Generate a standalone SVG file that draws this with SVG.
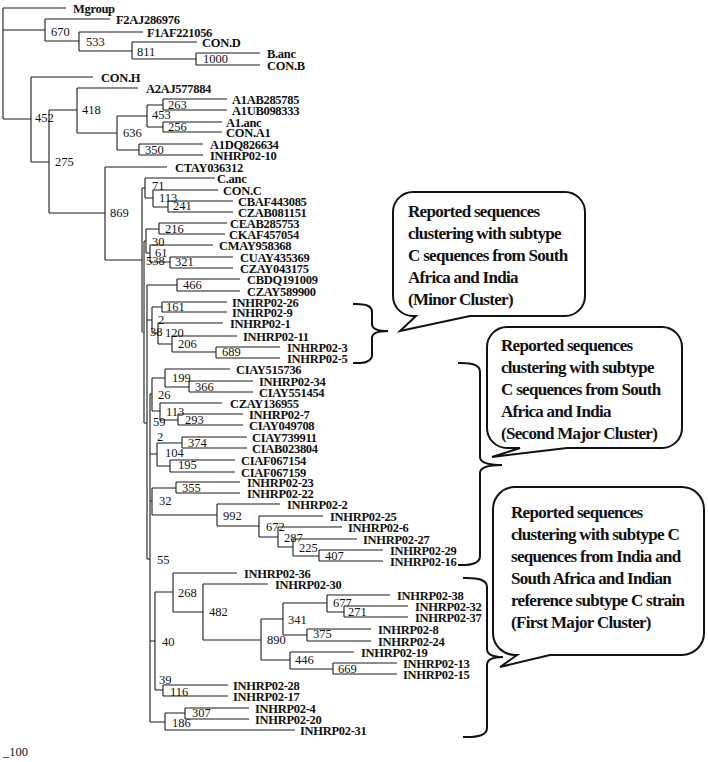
<svg xmlns="http://www.w3.org/2000/svg" width="708" height="762" viewBox="0 0 708 762">
<style>
.br{fill:none;stroke:#1a1a1a;stroke-width:1.1}
.lf{font-family:"Liberation Serif","Times New Roman",serif;font-weight:bold;font-size:12.5px;letter-spacing:-0.3px;fill:#111}
.bs{font-family:"Liberation Serif","Times New Roman",serif;font-size:12.5px;fill:#111}
.ct{font-family:"Liberation Serif","Times New Roman",serif;font-weight:bold;font-size:17px;letter-spacing:-0.7px;fill:#111}
.box{fill:#fff;stroke:#111;stroke-width:2}
.brk{fill:none;stroke:#111;stroke-width:2}
</style>
<rect width="708" height="762" fill="#fff"/>
<g id="connectors">
<path class="br" d="M3 8H66 M45 19H110 M79 32H143 M132 42H197 M196 53H260 M196 65H260 M31 77H93 M77 88H138 M163 99H227 M163 110H227 M163 122H222 M163 132H222 M139 144H203 M139 155H203 M105 167H167 M145 178H215 M153 190H218 M168 201H233 M168 212H233 M159 223H227 M159 234H225 M150 245H213 M170 257H233 M170 268H233 M177 279H240 M177 291H240 M162 302H227 M162 312H227 M158 323H223 M172 336H237 M216 347H280 M216 358H280 M165 369H230 M189 381H253 M189 392H253 M160 403H222 M178 414H243 M178 425H243 M182 437H247 M182 448H247 M170 460H235 M170 472H235 M176 482H240 M176 493H240 M217 504H280 M259 516H323 M278 527H342 M293 539H357 M319 550H383 M319 561H383 M173 573H237 M203 584H268 M327 595H390 M344 606H408 M344 617H408 M307 629H371 M307 641H371 M290 652H354 M333 663H397 M333 674H397 M163 685H228 M163 696H228 M185 708H249 M185 719H249 M165 730H295"/>
<path class="br" d="M3 8V119 M3 30H45 M45 19V41 M45 41H79 M79 32V51 M79 51H132 M132 42V59 M132 59H196 M196 53V65 M3 119H31 M31 77V162 M31 162H49 M49 110V213 M49 110H77 M77 88V133 M77 133H117 M117 116V150 M117 116H147 M147 105V127 M147 105H163 M163 99V110 M147 127H163 M163 122V132 M117 150H139 M139 144V155 M49 213H105 M105 167V260"/>
<path class="br" d="M105 260H142 M142 188V332 M142 188H145 M145 178V198 M145 198H153 M153 190V207 M153 207H168 M168 201V212 M142 332H144 M144 241V423 M144 241H146 M146 229V253 M146 229H159 M159 223V234 M146 253H150 M150 245V262 M150 262H170 M170 257V268 M144 423H147 M147 285V559 M147 285H177 M177 279V291 M147 320H152 M152 307V333 M152 307H162 M162 302V312 M152 333H158 M158 323V344 M158 344H172 M172 336V352 M172 352H216 M216 347V358"/>
<path class="br" d="M147 559H150 M150 394V722 M150 394H152 M152 378V411 M152 378H165 M165 369V387 M165 387H189 M189 381V392 M152 411H160 M160 403V420 M160 420H178 M178 414V425 M150 454H157 M157 443V466 M157 443H182 M182 437V448 M157 466H170 M170 460V472 M150 501H152 M152 488V515 M152 488H176 M176 482V493 M152 515H217 M217 504V526 M217 526H259 M259 516V537 M259 537H278 M278 527V547 M278 547H293 M293 539V556 M293 556H319 M319 550V561"/>
<path class="br" d="M150 641H155 M155 592V690 M155 592H173 M173 573V612 M173 612H203 M203 584V640 M203 640H261 M261 619V660 M261 619H283 M283 603V635 M283 603H327 M327 595V612 M327 612H344 M344 606V617 M283 635H307 M307 629V641 M261 660H290 M290 652V669 M290 669H333 M333 663V674 M155 690H163 M163 685V696 M150 722H165 M165 713V730 M165 713H185 M185 708V719"/>
<rect x="142.4" y="241" width="1.6" height="91" fill="#8a8a8a"/>
</g>
<g id="leaves">
<g id="n-Mgroup"><text class="lf" x="73" y="12.5">Mgroup</text></g>
<g id="n-F2AJ286976"><text class="lf" x="116" y="23.5">F2AJ286976</text></g>
<g id="n-F1AF221056"><text class="lf" x="147" y="36.5">F1AF221056</text></g>
<g id="n-CON-D"><text class="lf" x="202" y="46.5">CON.D</text></g>
<g id="n-B-anc"><text class="lf" x="267" y="57.5">B.anc</text></g>
<g id="n-CON-B"><text class="lf" x="267" y="69.5">CON.B</text></g>
<g id="n-CON-H"><text class="lf" x="101" y="81.5">CON.H</text></g>
<g id="n-A2AJ577884"><text class="lf" x="146" y="92.5">A2AJ577884</text></g>
<g id="n-A1AB285785"><text class="lf" x="232" y="103.5">A1AB285785</text></g>
<g id="n-A1UB098333"><text class="lf" x="232" y="114.5">A1UB098333</text></g>
<g id="n-A1-anc"><text class="lf" x="226" y="126.5">A1.anc</text></g>
<g id="n-CON-A1"><text class="lf" x="226" y="136.5">CON.A1</text></g>
<g id="n-A1DQ826634"><text class="lf" x="210" y="148.5">A1DQ826634</text></g>
<g id="n-INHRP02-10"><text class="lf" x="210" y="159.5">INHRP02-10</text></g>
<g id="n-CTAY036312"><text class="lf" x="175" y="171.5">CTAY036312</text></g>
<g id="n-C-anc"><text class="lf" x="217" y="182.5">C.anc</text></g>
<g id="n-CON-C"><text class="lf" x="223" y="194.5">CON.C</text></g>
<g id="n-CBAF443085"><text class="lf" x="238" y="205.5">CBAF443085</text></g>
<g id="n-CZAB081151"><text class="lf" x="238" y="216.5">CZAB081151</text></g>
<g id="n-CEAB285753"><text class="lf" x="230" y="227.5">CEAB285753</text></g>
<g id="n-CKAF457054"><text class="lf" x="229" y="238.5">CKAF457054</text></g>
<g id="n-CMAY958368"><text class="lf" x="219" y="249.5">CMAY958368</text></g>
<g id="n-CUAY435369"><text class="lf" x="240" y="261.5">CUAY435369</text></g>
<g id="n-CZAY043175"><text class="lf" x="240" y="272.5">CZAY043175</text></g>
<g id="n-CBDQ191009"><text class="lf" x="247" y="283.5">CBDQ191009</text></g>
<g id="n-CZAY589900"><text class="lf" x="247" y="295.5">CZAY589900</text></g>
<g id="n-INHRP02-26"><text class="lf" x="232" y="306.5">INHRP02-26</text></g>
<g id="n-INHRP02-9"><text class="lf" x="232" y="316.5">INHRP02-9</text></g>
<g id="n-INHRP02-1"><text class="lf" x="230" y="327.5">INHRP02-1</text></g>
<g id="n-INHRP02-11"><text class="lf" x="243" y="340.5">INHRP02-11</text></g>
<g id="n-INHRP02-3"><text class="lf" x="287" y="351.5">INHRP02-3</text></g>
<g id="n-INHRP02-5"><text class="lf" x="287" y="362.5">INHRP02-5</text></g>
<g id="n-CIAY515736"><text class="lf" x="236" y="373.5">CIAY515736</text></g>
<g id="n-INHRP02-34"><text class="lf" x="259" y="385.5">INHRP02-34</text></g>
<g id="n-CIAY551454"><text class="lf" x="259" y="396.5">CIAY551454</text></g>
<g id="n-CZAY136955"><text class="lf" x="230" y="407.5">CZAY136955</text></g>
<g id="n-INHRP02-7"><text class="lf" x="249" y="418.5">INHRP02-7</text></g>
<g id="n-CIAY049708"><text class="lf" x="249" y="429.5">CIAY049708</text></g>
<g id="n-CIAY739911"><text class="lf" x="252" y="441.5">CIAY739911</text></g>
<g id="n-CIAB023804"><text class="lf" x="252" y="452.5">CIAB023804</text></g>
<g id="n-CIAF067154"><text class="lf" x="241" y="464.5">CIAF067154</text></g>
<g id="n-CIAF067159"><text class="lf" x="241" y="476.5">CIAF067159</text></g>
<g id="n-INHRP02-23"><text class="lf" x="247" y="486.5">INHRP02-23</text></g>
<g id="n-INHRP02-22"><text class="lf" x="247" y="497.5">INHRP02-22</text></g>
<g id="n-INHRP02-2"><text class="lf" x="287" y="508.5">INHRP02-2</text></g>
<g id="n-INHRP02-25"><text class="lf" x="330" y="520.5">INHRP02-25</text></g>
<g id="n-INHRP02-6"><text class="lf" x="348" y="531.5">INHRP02-6</text></g>
<g id="n-INHRP02-27"><text class="lf" x="363" y="543.5">INHRP02-27</text></g>
<g id="n-INHRP02-29"><text class="lf" x="390" y="554.5">INHRP02-29</text></g>
<g id="n-INHRP02-16"><text class="lf" x="390" y="565.5">INHRP02-16</text></g>
<g id="n-INHRP02-36"><text class="lf" x="244" y="577.5">INHRP02-36</text></g>
<g id="n-INHRP02-30"><text class="lf" x="275" y="588.5">INHRP02-30</text></g>
<g id="n-INHRP02-38"><text class="lf" x="397" y="599.5">INHRP02-38</text></g>
<g id="n-INHRP02-32"><text class="lf" x="415" y="610.5">INHRP02-32</text></g>
<g id="n-INHRP02-37"><text class="lf" x="415" y="621.5">INHRP02-37</text></g>
<g id="n-INHRP02-8"><text class="lf" x="378" y="633.5">INHRP02-8</text></g>
<g id="n-INHRP02-24"><text class="lf" x="378" y="645.5">INHRP02-24</text></g>
<g id="n-INHRP02-19"><text class="lf" x="361" y="656.5">INHRP02-19</text></g>
<g id="n-INHRP02-13"><text class="lf" x="403" y="667.5">INHRP02-13</text></g>
<g id="n-INHRP02-15"><text class="lf" x="403" y="678.5">INHRP02-15</text></g>
<g id="n-INHRP02-28"><text class="lf" x="233" y="689.5">INHRP02-28</text></g>
<g id="n-INHRP02-17"><text class="lf" x="233" y="700.5">INHRP02-17</text></g>
<g id="n-INHRP02-4"><text class="lf" x="255" y="712.5">INHRP02-4</text></g>
<g id="n-INHRP02-20"><text class="lf" x="255" y="723.5">INHRP02-20</text></g>
<g id="n-INHRP02-31"><text class="lf" x="300" y="734.5">INHRP02-31</text></g>
</g>
<g id="bootstrap" class="bs">
<text x="51" y="36">670</text><text x="86" y="46">533</text><text x="137" y="56">811</text><text x="203" y="63">1000</text>
<text x="35" y="122">452</text><text x="82" y="114">418</text><text x="152" y="119">453</text><text x="168" y="109">263</text>
<text x="168" y="131">256</text><text x="123" y="137">636</text><text x="145" y="154">350</text><text x="55" y="166">275</text>
<text x="110" y="217">869</text><text x="152" y="190">71</text><text x="159" y="202">113</text><text x="173" y="210">241</text>
<text x="165" y="233">216</text><text x="152" y="246">30</text><text x="155" y="257">61</text><text x="146" y="265">538</text>
<text x="175" y="266">321</text><text x="183" y="289">466</text><text x="166" y="311">161</text><text x="158" y="324">2</text>
<text x="150" y="336">38</text><text x="165" y="337">120</text><text x="178" y="348">206</text><text x="222" y="356">689</text>
<text x="172" y="382">199</text><text x="195" y="391">366</text><text x="158" y="399">26</text><text x="166" y="416">113</text>
<text x="153" y="426">59</text><text x="185" y="424">293</text><text x="157" y="441">2</text><text x="188" y="447">374</text>
<text x="165" y="457">104</text><text x="178" y="469">195</text><text x="182" y="492">355</text><text x="159" y="505">32</text>
<text x="223" y="520">992</text><text x="266" y="531">672</text><text x="284" y="542">287</text><text x="299" y="552">225</text>
<text x="325" y="560">407</text><text x="157" y="564">55</text><text x="178" y="597">268</text><text x="209" y="616">482</text>
<text x="333" y="607">677</text><text x="348" y="616">271</text><text x="288" y="624">341</text><text x="313" y="638">375</text>
<text x="267" y="644">890</text><text x="162" y="646">40</text><text x="295" y="664">446</text><text x="338" y="673">669</text>
<text x="159" y="684">39</text><text x="170" y="696">116</text><text x="192" y="717">307</text><text x="172" y="727">186</text>
</g>
<g id="scale"><text class="bs" x="3" y="756">_100</text></g>
<g id="brackets">
<path class="brk" d="M353 304Q372 303 372 312V324Q372 331 388 331Q372 331 372 338V355Q372 364 353 363"/>
<path class="brk" d="M458 363Q480 362 480 372V457Q480 465 502 465Q480 465 480 473V556Q480 566 458 565"/>
<path class="brk" d="M463 578Q487 577 487 587V649Q487 657 503 657Q487 657 487 665V728Q487 738 463 737"/>
</g>
<g id="callout-minor">
<path class="box" d="M413 192H565A20 20 0 0 1 585 212V296A20 20 0 0 1 565 316H470L400 331L416 316H413A20 20 0 0 1 393 296V212A20 20 0 0 1 413 192Z"/>
<text class="ct" x="408" y="217">Reported sequences</text>
<text class="ct" x="408" y="239">clustering with subtype</text>
<text class="ct" x="408" y="261">C sequences from South</text>
<text class="ct" x="408" y="283">Africa and India</text>
<text class="ct" x="408" y="305">(Minor Cluster)</text>
</g>
<g id="callout-second">
<path class="box" d="M507 327H662A20 20 0 0 1 682 347V428A20 20 0 0 1 662 448H567L492 457L520 448H507A20 20 0 0 1 487 428V347A20 20 0 0 1 507 327Z"/>
<text class="ct" x="501" y="351">Reported sequences</text>
<text class="ct" x="501" y="373">clustering with subtype</text>
<text class="ct" x="501" y="395">C sequences from South</text>
<text class="ct" x="501" y="417">Africa and India</text>
<text class="ct" x="501" y="439">(Second Major Cluster)</text>
</g>
<g id="callout-first">
<path class="box" d="M515 487H682A22 22 0 0 1 704 509V633A22 22 0 0 1 682 655H550L500 667L517 655H515A22 22 0 0 1 493 633V509A22 22 0 0 1 515 487Z"/>
<text class="ct" x="511" y="518">Reported sequences</text>
<text class="ct" x="511" y="540">clustering with subtype C</text>
<text class="ct" x="511" y="562">sequences from India and</text>
<text class="ct" x="511" y="584">South Africa and Indian</text>
<text class="ct" x="511" y="606">reference subtype C strain</text>
<text class="ct" x="511" y="628">(First Major Cluster)</text>
</g>
</svg>
